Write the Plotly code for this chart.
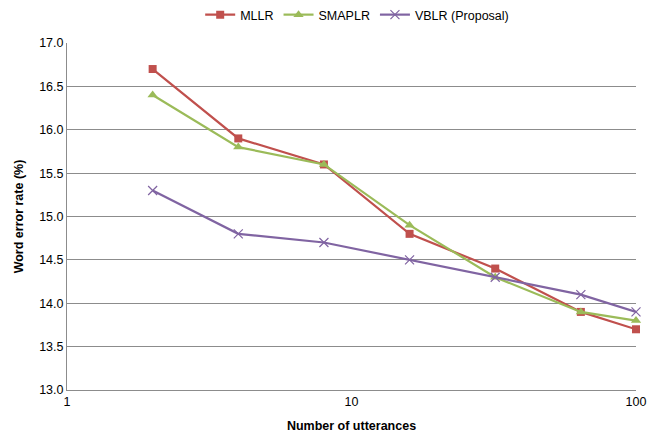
import plotly.graph_objects as go

utterances = [2, 4, 8, 16, 32, 64, 100]
mllr = [16.7, 15.9, 15.6, 14.8, 14.4, 13.9, 13.7]
smaplr = [16.4, 15.8, 15.6, 14.9, 14.3, 13.9, 13.8]
vblr = [15.3, 14.8, 14.7, 14.5, 14.3, 14.1, 13.9]

x_ticks = [1, 10, 100]
x_tick_labels = ["1", "10", "100"]

font = "Liberation Sans, Arial, sans-serif"

fig = go.Figure()
fig.add_trace(go.Scatter(
    x=utterances, y=mllr, name="MLLR", mode="lines+markers", cliponaxis=False,
    line=dict(color="#C0504D", width=2.2),
    marker=dict(symbol="square", size=8, color="#C0504D")))
fig.add_trace(go.Scatter(
    x=utterances, y=smaplr, name="SMAPLR", mode="lines+markers", cliponaxis=False,
    line=dict(color="#9BBB59", width=2.2),
    marker=dict(symbol="triangle-up", size=9, color="#9BBB59")))
fig.add_trace(go.Scatter(
    x=utterances, y=vblr, name="VBLR (Proposal)", mode="lines+markers", cliponaxis=False,
    line=dict(color="#8064A2", width=2.2),
    marker=dict(symbol="x-thin-open", size=9, color="#8064A2",
                line=dict(color="#8064A2", width=1.2))))

fig.update_layout(
    width=657, height=433,
    margin=dict(l=67, r=21, t=43, b=43, autoexpand=False),
    paper_bgcolor="white", plot_bgcolor="white",
    font=dict(family=font, size=12, color="#000000"),
    showlegend=True,
    legend=dict(orientation="h", x=0.51, xanchor="center", y=1.0, yanchor="top",
                yref="container", font=dict(size=12.5), itemwidth=30,
                tracegroupgap=0),
)

fig.update_xaxes(
    type="log", range=[0, 2], tickvals=x_ticks, ticktext=x_tick_labels,
    showgrid=False, showline=True, linecolor="#8c8c8c", linewidth=1,
    ticks="", zeroline=False, automargin=False,
    title=dict(text="<b>Number of utterances</b>", font=dict(size=12.5), standoff=13),
    tickfont=dict(size=12.5))
fig.update_yaxes(
    range=[13, 17], dtick=0.5, tick0=13, tickformat=".1f",
    showgrid=True, gridcolor="#8c8c8c", gridwidth=1,
    showline=True, linecolor="#8c8c8c", linewidth=1, ticks="", zeroline=False,
    automargin=False,
    title=dict(text="<b>Word error rate (%)</b>", font=dict(size=12.5), standoff=12),
    tickfont=dict(size=12.5))

fig.write_html("out.html", config={"displayModeBar": False},
               post_script="document.body.style.margin='0px';")
